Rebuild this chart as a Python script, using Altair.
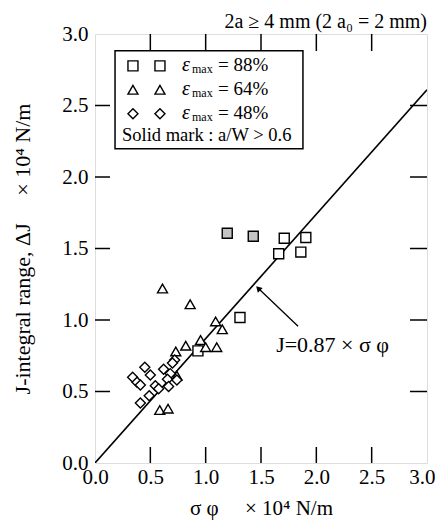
import altair as alt
import pandas as pd

FONT = "Liberation Serif"
W, H = 332, 429
SP = "\u2003"

# ---- data ----
sq_x = [1.195, 1.43, 1.71, 1.905, 1.66, 1.86, 1.31, 0.93]
sq_y = [1.607, 1.586, 1.572, 1.577, 1.463, 1.475, 1.017, 0.784]
sq_solid = [True, True, False, False, False, False, False, False]

tri_x = [0.61, 0.86, 1.09, 1.15, 0.954, 0.82, 1.00, 1.10, 0.73, 0.74, 0.585, 0.66]
tri_y = [1.22, 1.11, 0.99, 0.935, 0.86, 0.82, 0.81, 0.81, 0.78, 0.61, 0.37, 0.38]
tri_solid = [False] * 12

dia_x = [0.34, 0.38, 0.41, 0.45, 0.50, 0.62, 0.72, 0.70, 0.68, 0.655, 0.74, 0.545, 0.575, 0.49, 0.41, 0.665]
dia_y = [0.60, 0.565, 0.545, 0.67, 0.615, 0.655, 0.72, 0.70, 0.625, 0.585, 0.58, 0.54, 0.52, 0.47, 0.42, 0.535]
dia_solid = [False] * 16

series_names = ["88%", "64%", "48%"]
series_shapes = ["square", "triangle-up", "diamond"]

slope = 0.87
line_x = [0.0, 3.0]

x_ticks = [0.0, 0.5, 1.0, 1.5, 2.0, 2.5, 3.0]
y_ticks = [0.0, 0.5, 1.0, 1.5, 2.0, 2.5, 3.0]
inner_ticks = [0.5, 1.0, 1.5, 2.0, 2.5]

rows = []
for name, xs_, ys_, ss in [("88%", sq_x, sq_y, sq_solid),
                           ("64%", tri_x, tri_y, tri_solid),
                           ("48%", dia_x, dia_y, dia_solid)]:
    for a, b, s in zip(xs_, ys_, ss):
        rows.append({"series": name, "x": a, "y": b,
                     "fillc": "#c4c4c4" if s else "white"})
df = pd.DataFrame(rows)

xs = alt.Scale(domain=[0, 3], nice=False, zero=False)
ys = alt.Scale(domain=[0, 3], nice=False, zero=False)
shape_scale = alt.Scale(domain=series_names, range=series_shapes)

x_axis = alt.Axis(values=x_ticks, format=".1f", ticks=False, domain=False, grid=False,
                  labelFont=FONT, labelFontSize=21, labelColor="black", labelPadding=3,
                  labelFlush=False,
                  labelAlign={"condition": {"test": "datum.value >= 3", "value": "right"},
                              "value": "center"},
                  labelOffset={"condition": {"test": "datum.value >= 3", "value": 8},
                               "value": 0},
                  title="σ φ" + SP + " × 10⁴ N/m", titleFont=FONT, titleFontSize=21,
                  titleFontWeight="normal", titleColor="black",
                  titleY=51, titleBaseline="alphabetic")
y_axis = alt.Axis(values=y_ticks, format=".1f", ticks=False, domain=False, grid=False,
                  labelFont=FONT, labelFontSize=21, labelColor="black", labelPadding=7,
                  labelFlush=False,
                  title="J-integral range,  ΔJ" + SP + " × 10⁴ N/m", titleFont=FONT,
                  titleFontSize=22, titleFontWeight="normal", titleColor="black",
                  titleX=-73, titleBaseline="middle")

# fitted line
line_df = pd.DataFrame({"x": line_x, "y": [slope * v for v in line_x]})
line = alt.Chart(line_df).mark_line(color="black", strokeWidth=1.6, clip=True).encode(
    x=alt.X("x:Q", scale=xs, axis=x_axis),
    y=alt.Y("y:Q", scale=ys, axis=y_axis),
)

points = alt.Chart(df).mark_point(filled=True, stroke="black", strokeWidth=1.4,
                                  size=100, opacity=1).encode(
    x=alt.X("x:Q", scale=xs),
    y=alt.Y("y:Q", scale=ys),
    shape=alt.Shape("series:N", scale=shape_scale, legend=None),
    fill=alt.Fill("fillc:N", scale=None),
)

# inward ticks
tick_df = pd.DataFrame({"v": inner_ticks})
tk = dict(color="black", strokeWidth=1.5)
t_bottom = alt.Chart(tick_df).mark_rule(**tk).encode(
    x=alt.X("v:Q", scale=xs), y=alt.value(H), y2=alt.value(H - 16))
t_top = alt.Chart(tick_df).mark_rule(**tk).encode(
    x=alt.X("v:Q", scale=xs), y=alt.value(0), y2=alt.value(17))
t_left = alt.Chart(tick_df).mark_rule(**tk).encode(
    y=alt.Y("v:Q", scale=ys), x=alt.value(0), x2=alt.value(15))
t_right = alt.Chart(tick_df).mark_rule(**tk).encode(
    y=alt.Y("v:Q", scale=ys), x=alt.value(W), x2=alt.value(W - 17))

# legend box
box_df = pd.DataFrame({"x": [0.181], "x2": [1.879], "y": [2.882], "y2": [2.198]})
box = alt.Chart(box_df).mark_rect(fill="white", stroke="black", strokeWidth=1.5).encode(
    x=alt.X("x:Q", scale=xs), x2="x2:Q", y=alt.Y("y:Q", scale=ys), y2="y2:Q")

leg_rows_y = [2.777, 2.610, 2.442]
leg_cols_x = [0.343, 0.587]
leg_sym = pd.DataFrame([{"series": s, "x": cx, "y": ry}
                        for s, ry in zip(series_names, leg_rows_y) for cx in leg_cols_x])
leg_points = alt.Chart(leg_sym).mark_point(filled=True, fill="white", stroke="black",
                                           strokeWidth=1.4, size=100, opacity=1).encode(
    x=alt.X("x:Q", scale=xs), y=alt.Y("y:Q", scale=ys),
    shape=alt.Shape("series:N", scale=shape_scale, legend=None))

leg_text_y = [2.740, 2.572, 2.405]
leg_tx = 0.786
eps_df = pd.DataFrame({"x": [leg_tx] * 3, "y": leg_text_y, "t": ["ε"] * 3})
eps = alt.Chart(eps_df).mark_text(font=FONT, fontSize=20, fontStyle="italic", align="left",
                                  baseline="alphabetic", color="black").encode(
    x=alt.X("x:Q", scale=xs), y=alt.Y("y:Q", scale=ys), text="t:N")
sub = alt.Chart(eps_df.assign(t="max")).mark_text(font=FONT, fontSize=12, align="left",
                                                  baseline="alphabetic", dx=10, dy=2,
                                                  color="black").encode(
    x=alt.X("x:Q", scale=xs), y=alt.Y("y:Q", scale=ys), text="t:N")
val_df = pd.DataFrame({"x": [leg_tx] * 3, "y": leg_text_y,
                       "t": ["= " + s for s in series_names]})
vals = alt.Chart(val_df).mark_text(font=FONT, fontSize=19, align="left",
                                   baseline="alphabetic", dx=36, color="black").encode(
    x=alt.X("x:Q", scale=xs), y=alt.Y("y:Q", scale=ys), text="t:N")
solid_df = pd.DataFrame({"x": [0.244], "y": [2.252], "t": ["Solid mark : a/W > 0.6"]})
solid = alt.Chart(solid_df).mark_text(font=FONT, fontSize=18.5, align="left",
                                      baseline="alphabetic", color="black").encode(
    x=alt.X("x:Q", scale=xs), y=alt.Y("y:Q", scale=ys), text="t:N")

# header text
head_df = pd.DataFrame({"x": [3.0], "y": [3.0], "t": ["2a ≥ 4 mm (2 a₀ = 2 mm)"]})
head = alt.Chart(head_df).mark_text(font=FONT, fontSize=20, align="right",
                                    baseline="alphabetic", dy=-6, color="black").encode(
    x=alt.X("x:Q", scale=xs), y=alt.Y("y:Q", scale=ys), text="t:N")

# annotation arrow and label
arr_df = pd.DataFrame({"x": [1.835], "y": [0.956], "x2": [1.475], "y2": [1.222]})
arrow = alt.Chart(arr_df).mark_rule(color="black", strokeWidth=1.3).encode(
    x=alt.X("x:Q", scale=xs), y=alt.Y("y:Q", scale=ys), x2="x2:Q", y2="y2:Q")
head_pt = alt.Chart(arr_df).mark_point(shape="triangle-up", filled=True, color="black",
                                       size=45, angle=316, opacity=1).encode(
    x=alt.X("x2:Q", scale=xs), y=alt.Y("y2:Q", scale=ys))
ann_df = pd.DataFrame({"x": [2.147], "y": [0.775], "t": ["J=0.87 × σ φ"]})
ann = alt.Chart(ann_df).mark_text(font=FONT, fontSize=22, align="center",
                                  baseline="alphabetic", color="black").encode(
    x=alt.X("x:Q", scale=xs), y=alt.Y("y:Q", scale=ys), text="t:N")

chart = alt.layer(
    line, t_bottom, t_top, t_left, t_right, box, leg_points, eps, sub, vals, solid,
    head, arrow, head_pt, ann, points
).properties(
    width=W, height=H,
    autosize=alt.AutoSizeParams(type="none"),
    padding={"left": 87, "top": 26, "right": 8, "bottom": 58},
).configure_view(stroke="black", strokeWidth=1.5).configure(background="white")

chart.save("out.html", embed_options={"renderer": "svg", "actions": False})
